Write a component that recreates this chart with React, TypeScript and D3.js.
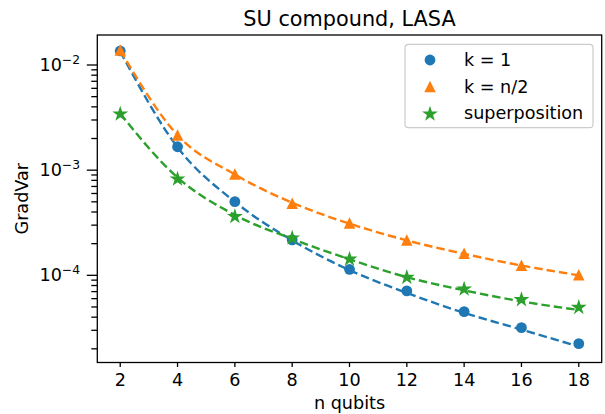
import * as d3 from 'd3'

// qubit counts on the x axis
const nQubits = [2, 4, 6, 8, 10, 12, 14, 16, 18]

// measured gradient variances (markers)
const gradVarK1 = [1.36e-2, 1.67e-3, 5.02e-4, 2.17e-4, 1.14e-4, 7.11e-5, 4.52e-5, 3.18e-5, 2.24e-5]
const gradVarKHalf = [1.39e-2, 2.16e-3, 9.2e-4, 4.84e-4, 3.15e-4, 2.17e-4, 1.62e-4, 1.25e-4, 1.01e-4]
const gradVarSuper = [3.48e-3, 8.37e-4, 3.69e-4, 2.3e-4, 1.45e-4, 9.72e-5, 7.54e-5, 5.97e-5, 5.04e-5]

// fitted curves (dashed lines)
const fitK1 = [1.35e-2, 1.65e-3, 5.0e-4, 2.15e-4, 1.12e-4, 6.8e-5, 4.4e-5, 3.05e-5, 2.1e-5]
const fitKHalf = [1.38e-2, 2.15e-3, 9.1e-4, 4.9e-4, 3.1e-4, 2.15e-4, 1.6e-4, 1.24e-4, 1.0e-4]
const fitSuper = [3.45e-3, 8.5e-4, 3.75e-4, 2.22e-4, 1.42e-4, 9.6e-5, 7.2e-5, 5.65e-5, 4.68e-5]

const xTicks = [2, 4, 6, 8, 10, 12, 14, 16, 18]
const yMajorExps = [-2, -3, -4]
const seriesLabels = ['k = 1', 'k = n/2', 'superposition']

const width = 605
const height = 414
const margin = { top: 35, right: 3.3, bottom: 51.5, left: 97.3 }
const font = '"DejaVu Sans", sans-serif'
const colors = ['#1f77b4', '#ff7f0e', '#2ca02c']

function Marker({ kind, x, y, color }: { kind: number; x: number; y: number; color: string }) {
  if (kind === 0) return <circle cx={x} cy={y} r={5.4} fill={color} />
  if (kind === 1) {
    const s = 11.5
    return (
      <path
        d={`M${x},${y - s / 2}L${x - s / 2},${y + s / 2}L${x + s / 2},${y + s / 2}Z`}
        fill={color}
      />
    )
  }
  const star = d3.symbol().type(d3.symbolStar).size(78)()
  return <path d={star || ''} transform={`translate(${x},${y + 0.8})`} fill={color} />
}

export default function App() {
  const innerW = width - margin.left - margin.right
  const innerH = height - margin.top - margin.bottom

  const x = d3.scaleLinear().domain([1.2, 18.8]).range([0, innerW])
  const y = d3
    .scaleLog()
    .domain([Math.pow(10, -4.829), Math.pow(10, -1.7147)])
    .range([innerH, 0])

  const minorTicks: number[] = []
  for (let e = -5; e <= -2; e++) {
    for (let m = 2; m <= 9; m++) {
      const v = m * Math.pow(10, e)
      if (v >= y.domain()[0] && v <= y.domain()[1]) minorTicks.push(v)
    }
  }

  const line = d3
    .line<number>()
    .x((_, i) => x(nQubits[i]))
    .y((d) => y(d))
    .curve(d3.curveMonotoneX)

  const points = [gradVarK1, gradVarKHalf, gradVarSuper]
  const fits = [fitK1, fitKHalf, fitSuper]

  return (
    <svg
      width={width}
      height={height}
      style={{ position: 'absolute', left: 0, top: 0, background: '#fff' }}
      fontFamily={font}
    >
      <text x={margin.left + innerW / 2} y={26} textAnchor="middle" fontSize={20.8} fill="#000">
        SU compound, LASA
      </text>

      <g transform={`translate(${margin.left},${margin.top})`}>
        {/* series */}
        {points.map((vals, s) => (
          <g key={s}>
            <path
              d={line(fits[s]) || ''}
              fill="none"
              stroke={colors[s]}
              strokeWidth={2.4}
              strokeDasharray="8.5 4"
            />
            {vals.map((v, i) => (
              <Marker key={i} kind={s} x={x(nQubits[i])} y={y(v)} color={colors[s]} />
            ))}
          </g>
        ))}

        {/* y minor ticks */}
        {minorTicks.map((v) => (
          <line key={v} x1={-6} x2={0} y1={y(v)} y2={y(v)} stroke="#000" strokeWidth={1.3} />
        ))}
        {/* y major ticks */}
        {yMajorExps.map((e) => (
          <g key={e} transform={`translate(0,${y(Math.pow(10, e))})`}>
            <line x1={-10.5} x2={0} stroke="#000" strokeWidth={1.3} />
            <text x={-17.3} y={6} textAnchor="end" fontSize={17.6} fill="#000">
              <tspan>10</tspan>
              <tspan dy={-7} fontSize={12.3}>
                {'\u2212' + Math.abs(e)}
              </tspan>
            </text>
          </g>
        ))}

        {/* x ticks */}
        {xTicks.map((t) => (
          <g key={t} transform={`translate(${x(t)},${innerH})`}>
            <line y1={0} y2={4.5} stroke="#000" strokeWidth={1.3} />
            <text y={23.2} textAnchor="middle" fontSize={17.6} fill="#000">
              {t}
            </text>
          </g>
        ))}

        <rect x={0} y={0} width={innerW} height={innerH} fill="none" stroke="#000" strokeWidth={1.3} />

        {/* legend */}
        <g transform={`translate(${405 - margin.left},${44.3 - margin.top})`}>
          <rect width={188} height={83.4} rx={3.5} fill="#fff" fillOpacity={0.8} stroke="#cccccc" strokeWidth={1.2} />
          {seriesLabels.map((lab, i) => (
            <g key={lab} transform={`translate(0,${15.7 + i * 26.6})`}>
              <Marker kind={i} x={25} y={0} color={colors[i]} />
              <text x={59} y={6.2} fontSize={17.6} fill="#000">
                {lab}
              </text>
            </g>
          ))}
        </g>
      </g>

      <text x={margin.left + innerW / 2} y={408.5} textAnchor="middle" fontSize={17.6} fill="#000">
        n qubits
      </text>
      <text
        transform={`translate(28.3,${margin.top + innerH / 2}) rotate(-90)`}
        textAnchor="middle"
        fontSize={17.6}
        fill="#000"
      >
        GradVar
      </text>
    </svg>
  )
}
